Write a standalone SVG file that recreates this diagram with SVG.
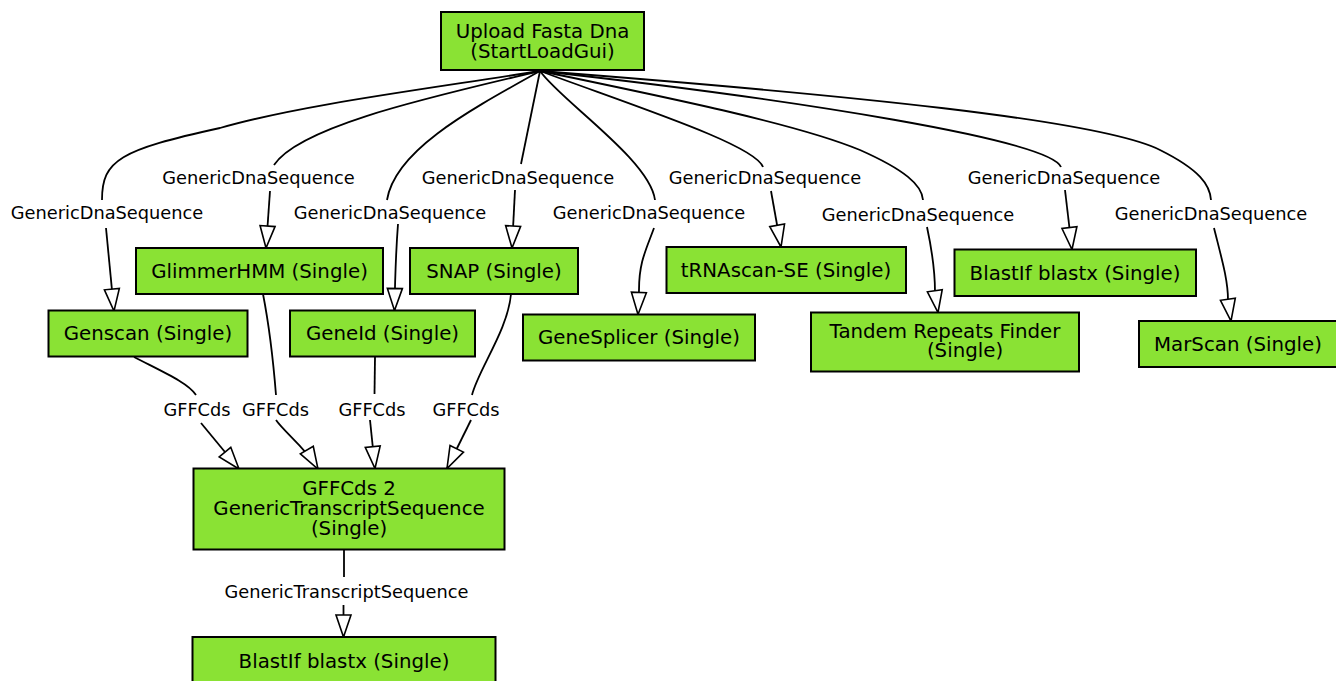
<svg xmlns="http://www.w3.org/2000/svg" width="1336" height="681" viewBox="0 0 1336 681">
  <style>
    .node rect { fill: #8ae234; stroke: #000; stroke-width: 2; }
    .node text { font-family: "DejaVu Sans", "Liberation Sans", sans-serif; font-size: 19.8px; text-anchor: middle; fill: #000; }
    .edge path { fill: none; stroke: #000; stroke-width: 1.8; }
    .edge path.head { marker-end: url(#hollow); }
    .edge text { font-family: "DejaVu Sans", "Liberation Sans", sans-serif; font-size: 17.8px; text-anchor: middle; fill: #000; }
  </style>
  <defs>
    <marker id="hollow" markerUnits="userSpaceOnUse" markerWidth="30" markerHeight="22" refX="22" refY="8" orient="auto" overflow="visible">
      <path d="M0,0.5 L22,8 L0,15.5 Z" fill="#fff" stroke="#000" stroke-width="1.6" stroke-linejoin="miter"/>
    </marker>
  </defs>
  <rect width="1336" height="681" fill="#fff"/>

  <!-- connectors: each edge is split around its label -->
  <g id="connectors">
    <g id="e-upload-genscan" class="edge">
      <path d="M540,71 C420,90 300,105 220,128 C120,150 102,160 102,200"/>
      <path class="head" d="M106,228 L114,311"/>
      <text x="107" y="219">GenericDnaSequence</text>
    </g>
    <g id="e-upload-glimmer" class="edge">
      <path d="M540,71 C440,95 300,125 274,165"/>
      <path class="head" d="M270,191 L266,248"/>
      <text x="258.5" y="184.3">GenericDnaSequence</text>
    </g>
    <g id="e-upload-geneid" class="edge">
      <path d="M540,71 C470,110 395,150 387,200"/>
      <path class="head" d="M398,224 C396,250 395,280 394.5,310.5"/>
      <text x="390" y="219">GenericDnaSequence</text>
    </g>
    <g id="e-upload-snap" class="edge">
      <path d="M540,71 L521,164"/>
      <path class="head" d="M515,190 L512,248"/>
      <text x="518" y="184.3">GenericDnaSequence</text>
    </g>
    <g id="e-upload-genesplicer" class="edge">
      <path d="M540,71 C560,100 650,160 655,200"/>
      <path class="head" d="M654,228 C646,250 639,262 639,290 L638,314.5"/>
      <text x="649" y="219">GenericDnaSequence</text>
    </g>
    <g id="e-upload-trnascan" class="edge">
      <path d="M540,71 C640,108 755,145 763,167"/>
      <path class="head" d="M771,191 L781,247"/>
      <text x="765" y="184.3">GenericDnaSequence</text>
    </g>
    <g id="e-upload-tandem" class="edge">
      <path d="M540,71 C680,100 800,125 860,150 C905,170 922,185 923,200"/>
      <path class="head" d="M927,227 C933,255 935,275 935,292 L938,312.5"/>
      <text x="918" y="220.5">GenericDnaSequence</text>
    </g>
    <g id="e-upload-blastif" class="edge">
      <path d="M540,71 C800,100 1050,140 1061,167"/>
      <path class="head" d="M1065,190 L1072,249.5"/>
      <text x="1064" y="184.3">GenericDnaSequence</text>
    </g>
    <g id="e-upload-marscan" class="edge">
      <path d="M540,71 C850,95 1100,120 1160,150 C1200,170 1210,185 1211,200"/>
      <path class="head" d="M1214,228 C1222,260 1228,280 1228,300 L1231,321"/>
      <text x="1211" y="219.5">GenericDnaSequence</text>
    </g>

    <g id="e-genscan-gff2" class="edge">
      <path d="M134,357 C165,373 188,383 196,395"/>
      <path class="head" d="M201,423 L239,469"/>
      <text x="197" y="416">GFFCds</text>
    </g>
    <g id="e-glimmer-gff2" class="edge">
      <path d="M263,294 C270,330 274,370 276,395"/>
      <path class="head" d="M276,420 C285,433 305,447 318,469"/>
      <text x="275.5" y="416">GFFCds</text>
    </g>
    <g id="e-geneid-gff2" class="edge">
      <path d="M375,357 L374.5,394"/>
      <path class="head" d="M370,420 L375,468.5"/>
      <text x="372" y="416">GFFCds</text>
    </g>
    <g id="e-snap-gff2" class="edge">
      <path d="M511,294 C508,330 478,370 472,395"/>
      <path class="head" d="M471,420 L447,468.5"/>
      <text x="466" y="416">GFFCds</text>
    </g>

    <g id="e-gff2-blastif" class="edge">
      <path d="M344,549 L344,577"/>
      <path class="head" d="M343.5,605 L343.5,637"/>
      <text x="346.5" y="597.5">GenericTranscriptSequence</text>
    </g>
  </g>

  <!-- nodes -->
  <g id="n-upload" class="node">
    <rect x="441" y="12" width="203" height="58"/>
    <text x="542.5" y="37.5">Upload Fasta Dna</text>
    <text x="542.5" y="57.8">(StartLoadGui)</text>
  </g>
  <g id="n-glimmerhmm" class="node">
    <rect x="136" y="248" width="247" height="46"/>
    <text x="259.5" y="277.5">GlimmerHMM (Single)</text>
  </g>
  <g id="n-snap" class="node">
    <rect x="410" y="248" width="168" height="46"/>
    <text x="494" y="277.5">SNAP (Single)</text>
  </g>
  <g id="n-genscan" class="node">
    <rect x="48.5" y="310.5" width="199" height="46"/>
    <text x="148" y="340.3">Genscan (Single)</text>
  </g>
  <g id="n-geneid" class="node">
    <rect x="290" y="310.5" width="185" height="46"/>
    <text x="382.5" y="340.3">GeneId (Single)</text>
  </g>
  <g id="n-genesplicer" class="node">
    <rect x="523" y="314.5" width="232" height="46"/>
    <text x="639" y="344">GeneSplicer (Single)</text>
  </g>
  <g id="n-trnascan" class="node">
    <rect x="666.5" y="247" width="239.5" height="46"/>
    <text x="786" y="276.8">tRNAscan-SE (Single)</text>
  </g>
  <g id="n-tandem" class="node">
    <rect x="811" y="312.5" width="268" height="59"/>
    <text x="945" y="337.5">Tandem Repeats Finder</text>
    <text x="965" y="357">(Single)</text>
  </g>
  <g id="n-blastif-1" class="node">
    <rect x="954.5" y="249.5" width="241.5" height="46.5"/>
    <text x="1075" y="279.5">BlastIf blastx (Single)</text>
  </g>
  <g id="n-marscan" class="node">
    <rect x="1139" y="321" width="198" height="46"/>
    <text x="1238" y="350.5">MarScan (Single)</text>
  </g>
  <g id="n-gffcds2" class="node">
    <rect x="193.5" y="468.5" width="311" height="81"/>
    <text x="349" y="494.5">GFFCds 2</text>
    <text x="349" y="515">GenericTranscriptSequence</text>
    <text x="349" y="535.3">(Single)</text>
  </g>
  <g id="n-blastif-2" class="node">
    <rect x="192.5" y="637" width="303" height="46"/>
    <text x="344" y="668">BlastIf blastx (Single)</text>
  </g>
</svg>
